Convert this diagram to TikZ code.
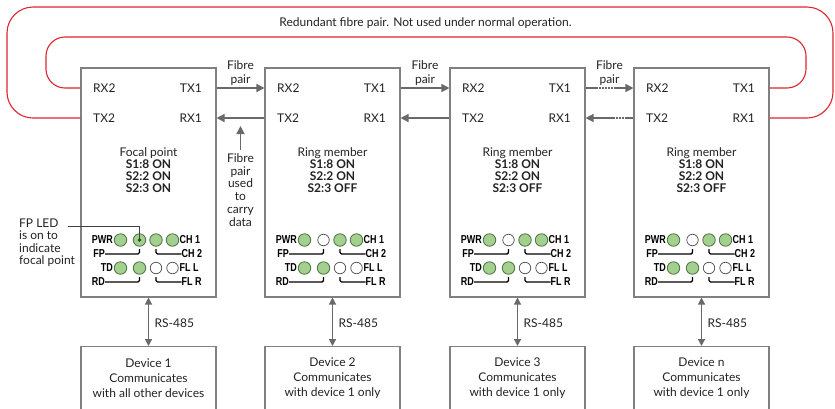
\documentclass[tikz,border=0pt]{standalone}
\usepackage{fontspec}
\setmainfont{Lato}
\newfontfamily\ledfont[FakeStretch=0.78]{Liberation Sans}
\usetikzlibrary{arrows.meta}
\definecolor{boxgray}{RGB}{128,128,128}
\definecolor{arrgray}{RGB}{105,105,105}
\definecolor{ringred}{RGB}{220,38,45}
\definecolor{ledgreen}{RGB}{163,208,143}
\definecolor{ledline}{RGB}{78,115,66}
\definecolor{txt}{RGB}{35,35,35}
\begin{document}
\begin{tikzpicture}[x=1pt,y=-1pt,
 every node/.style={text=txt, inner sep=0pt},
 unitbox/.style={draw=boxgray, line width=1.1pt, minimum width=135pt, minimum height=229pt},
 devbox/.style={draw=boxgray, line width=1.1pt, minimum width=135pt, minimum height=70pt},
 body/.style={font=\fontsize{12}{12}\selectfont},
 devtext/.style={font=\fontsize{12}{15}\selectfont, align=center},
 conn/.style={draw=arrgray, line width=1.3pt, -{Triangle[length=8pt,width=8pt]}},
 both/.style={draw=arrgray, line width=1.3pt, {Triangle[length=7pt,width=7pt]}-{Triangle[length=7pt,width=7pt]}},
 redline/.style={draw=ringred, line width=1.1pt},
 ledon/.style={circle, draw=ledline, fill=ledgreen, line width=0.8pt, minimum size=12.5pt},
 ledoff/.style={circle, draw=black!70, fill=white, line width=0.7pt, minimum size=11.5pt},
 ledlbl/.style={font=\ledfont\bfseries\fontsize{11.5}{11.5}\selectfont, text=black},
 brk/.style={draw=black, line width=1.4pt, rounded corners=1.5pt},
 leader/.style={draw=black!75, line width=0.9pt},
]
\fill[white] (0,0) rectangle (835,408);
\useasboundingbox (0,0) rectangle (835,408);

\coordinate (ra) at (0,88);
\coordinate (rb) at (0,118);

\foreach \i/\c/\ttl/\st/\fps/\dn/\dt in {
 1/148.5/Focal point/ON/ledon/1/with all other devices,
 2/332.5/Ring member/OFF/ledoff/2/with device 1 only,
 3/517.5/Ring member/OFF/ledoff/3/with device 1 only,
 4/701.5/Ring member/OFF/ledoff/n/with device 1 only}{
 \node[unitbox] (u\i) at (\c,182.5) {};
 \node[body, anchor=west] (rxa\i) at (\c-55.5,88) {RX2};
 \node[body, anchor=east] (txa\i) at (\c+53.5,88) {TX1};
 \node[body, anchor=west] (txb\i) at (\c-55.5,118) {TX2};
 \node[body, anchor=east] (rxb\i) at (\c+53.5,118) {RX1};
 \node[body, align=center] (st\i) at (\c,170) {\ttl\\\textbf{S1:8 ON}\\\textbf{S2:2 ON}\\\textbf{S2:3 \st}};
 \node[ledon] (pw\i) at (\c-28,240) {};
 \node[\fps] (fp\i) at (\c-9,240) {};
 \node[ledon] (ca\i) at (\c+7.5,240) {};
 \node[ledon] (cb\i) at (\c+24,240) {};
 \node[ledon] (td\i) at (\c-28,268) {};
 \node[ledon] (rd\i) at (\c-9,268) {};
 \node[ledoff] (fl\i) at (\c+7.5,268) {};
 \node[ledoff] (fr\i) at (\c+24,268) {};
 \node[ledlbl, anchor=east] (lpw\i) at (\c-35.5,240) {PWR};
 \node[ledlbl, anchor=east] (lfp\i) at (\c-43.5,254) {FP};
 \node[ledlbl, anchor=west] (lca\i) at (\c+31,240) {CH 1};
 \node[ledlbl, anchor=west] (lcb\i) at (\c+33,254) {CH 2};
 \node[ledlbl, anchor=east] (ltd\i) at (\c-35.5,268) {TD};
 \node[ledlbl, anchor=east] (lrd\i) at (\c-43.5,282) {RD};
 \node[ledlbl, anchor=west] (lfl\i) at (\c+31,268) {FL L};
 \node[ledlbl, anchor=west] (lfr\i) at (\c+33,282) {FL R};
 \draw[brk] (lfp\i.east) -- (lfp\i.east -| fp\i) -- ++(0,-5);
 \draw[brk] (lcb\i.west) -- (lcb\i.west -| ca\i) -- ++(0,-5);
 \draw[brk] (lrd\i.east) -- (lrd\i.east -| rd\i) -- ++(0,-5);
 \draw[brk] (lfr\i.west) -- (lfr\i.west -| fl\i) -- ++(0,-5);
 \node[devbox, anchor=north] (d\i) at (\c,346) {};
 \draw[both] (u\i.south) -- (d\i.north);
 \node[body, anchor=west] (rs\i) at (\c+6,323) {RS-485};
 \node[devtext] (dt\i) at (\c,378) {Device \dn\\Communicates\\\dt};
}

% ring connections
\draw[conn] (u1.east |- ra) -- (u2.west |- ra);
\draw[conn] (u2.west |- rb) -- (u1.east |- rb);
\draw[conn] (u2.east |- ra) -- (u3.west |- ra);
\draw[conn] (u3.west |- rb) -- (u2.east |- rb);
\draw[conn, dash pattern=on 12pt off 1.5pt on 1.5pt off 1.5pt on 1.5pt off 1.5pt on 1.5pt off 1.5pt on 1.5pt off 1.5pt on 1.5pt off 1.5pt on 60pt] (u3.east |- ra) -- (u4.west |- ra);
\draw[conn, dash pattern=on 8pt off 1.5pt on 1.5pt off 1.5pt on 1.5pt off 1.5pt on 1.5pt off 1.5pt on 60pt] (u4.west |- rb) -- (u3.east |- rb);

\node[body, align=center, font=\fontsize{12}{14}\selectfont] (fpa) at (240.5,73) {Fibre\\pair};
\node[body, align=center, font=\fontsize{12}{14}\selectfont] (fpb) at (425,73) {Fibre\\pair};
\node[body, align=center, font=\fontsize{12}{14}\selectfont] (fpc) at (609.5,73) {Fibre\\pair};

% redundant loops
\draw[redline, rounded corners=19pt] (u1.west |- ra) -- (46,88) -- (46,37) -- (806,37) -- (806,88) -- (u4.east |- ra);
\draw[redline, rounded corners=26pt] (u1.west |- rb) -- (7,118) -- (7,7) -- (833,7) -- (833,118) -- (u4.east |- rb);
\node[body] (redtxt) at (425.5,23) {Redundant fibre pair. Not used under normal operation.};

% data fibre note
\node[body, align=center, font=\fontsize{12}{12.8}\selectfont] (fpu) at (240.5,190) {Fibre\\pair\\used\\to\\carry\\data};
\coordinate (fptip) at (240.5,126);
\draw[conn, shorten <=3pt] (fpu.north) -- (fptip);

% FP LED note
\node[body, align=left, anchor=north west, font=\fontsize{12}{12.5}\selectfont] (note) at (19,218.5) {FP LED\\is on to\\indicate\\focal point};
\coordinate (ldst) at (68,226);
\draw[leader] (ldst) -| (fp1.center);
\fill[ledline!60!black] (fp1.center) circle (1.9);
\end{tikzpicture}
\end{document}
